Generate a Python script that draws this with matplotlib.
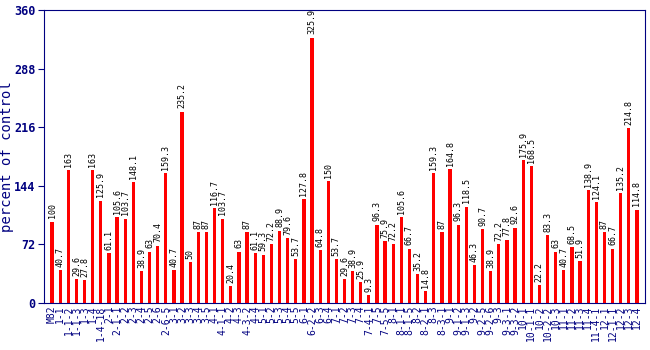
import numpy as np
import matplotlib
matplotlib.use("Agg")
import matplotlib.pyplot as plt

# --- data ---
lines = ["M82", "1-1", "1-1-2", "1-1-3", "1-3", "1-4", "1-4-18", "2-1", "2-1-1",
         "2-2", "2-3", "2-4", "2-5", "2-6", "2-6-5", "3-1", "3-2", "3-3", "3-4",
         "3-5", "4-1", "4-1-1", "4-2", "4-3", "4-3-2", "4-4", "5-1", "5-2", "5-3",
         "5-4", "5-5", "6-1", "6-2-2", "6-3", "6-4", "7-1", "7-2", "7-3", "7-4",
         "7-4-1", "7-5", "7-5-5", "8-1", "8-1-1", "8-1-5", "8-2", "8-2-1", "8-3",
         "8-3-1", "9-1", "9-1-2", "9-1-3", "9-2", "9-2-5", "9-2-6", "9-3", "9-3-1",
         "9-3-2", "10-1", "10-1-1", "10-2", "10-2-2", "10-3", "11-1", "11-2",
         "11-3", "11-4", "11-4-1", "12-1", "12-1-1", "12-2", "12-3", "12-4"]
percent = [100, 40.7, 163, 29.6, 27.8, 163, 125.9, 61.1, 105.6, 103.7, 148.1,
           38.9, 63, 70.4, 159.3, 40.7, 235.2, 50, 87, 87, 116.7, 103.7, 20.4,
           63, 87, 61.1, 59.3, 72.2, 88.9, 79.6, 53.7, 127.8, 325.9, 64.8, 150,
           53.7, 29.6, 38.9, 25.9, 9.3, 96.3, 75.9, 72.2, 105.6, 66.7, 35.2,
           14.8, 159.3, 87, 164.8, 96.3, 118.5, 46.3, 90.7, 38.9, 72.2, 77.8,
           92.6, 175.9, 168.5, 22.2, 83.3, 63, 40.7, 68.5, 51.9, 138.9, 124.1,
           87, 66.7, 135.2, 214.8, 114.8]
yticks = [0, 72, 144, 216, 288, 360]

navy = "#000080"
mono = "DejaVu Sans Mono"

fig = plt.figure(figsize=(6.5, 3.5), dpi=100)
ax = fig.add_axes([44 / 650, 47 / 350, 601 / 650, 293 / 350])

x = np.arange(len(percent))
ax.bar(x, percent, width=0.4, color="red")

for xi, v in zip(x, percent):
    ax.text(xi, v + 4, f"{v:g}", rotation=90, ha="center", va="bottom",
            fontsize=6, family=mono, color="black")

ax.set_xlim(-1, len(percent))
ax.set_ylim(0, 360)
ax.set_yticks(yticks)
ax.set_yticklabels([str(t) for t in yticks], family=mono, fontweight="bold",
                   fontsize=8.5, color=navy)
ax.set_xticks(x)
ax.set_xticklabels(lines, rotation=90, family=mono, fontsize=7, color=navy)
ax.tick_params(axis="x", length=0, pad=2)
ax.tick_params(axis="y", length=4, color=navy, pad=2)
for s in ax.spines.values():
    s.set_color(navy)
ax.set_ylabel("percent of control", family=mono, fontsize=10, color=navy)
ax.yaxis.set_label_coords(-30 / 601, 0.5)

fig.savefig("out.png", dpi=100)
